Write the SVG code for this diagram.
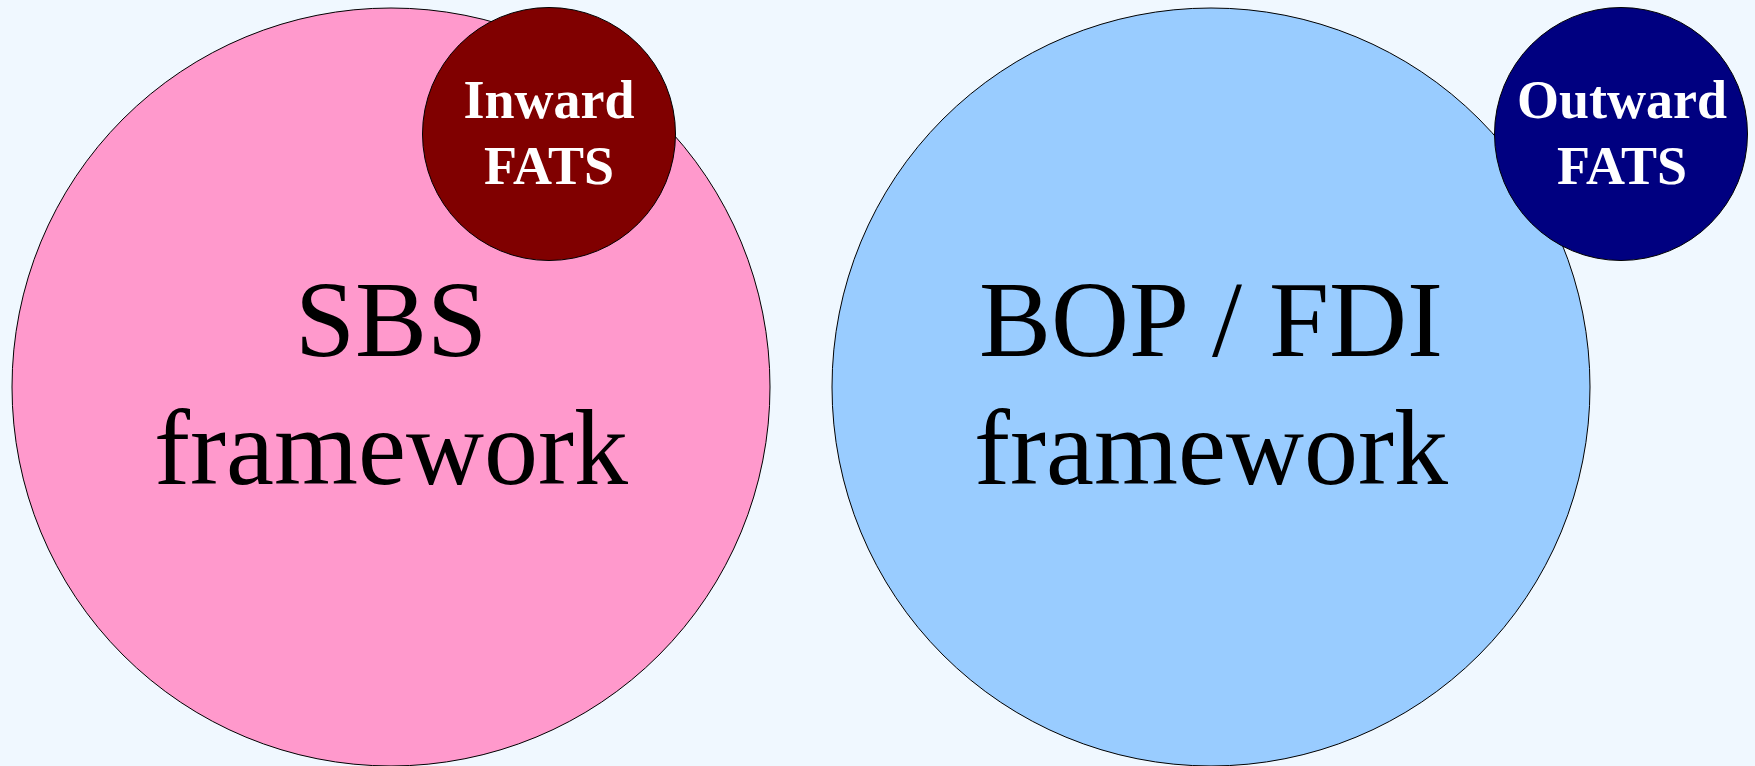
<svg xmlns="http://www.w3.org/2000/svg" width="1755" height="766" viewBox="0 0 1755 766">
<style>
.big{stroke:#000;stroke-width:1}
.small{stroke:#000;stroke-width:1}
.lbl{font-family:"Liberation Serif","Times New Roman",serif;font-size:108px;fill:#000;text-anchor:middle}
.slbl{font-family:"Liberation Serif","Times New Roman",serif;font-size:54px;font-weight:bold;fill:#fff;text-anchor:middle}
</style>
<rect x="0" y="0" width="1755" height="766" fill="#F0F8FF"/>
<g id="sbs">
<circle class="big" cx="391" cy="387" r="379" fill="#FF99CC"/>
<text class="lbl" x="391" y="356">SBS</text>
<text class="lbl" x="391" y="484">framework</text>
</g>
<g id="inward-fats">
<circle class="small" cx="549" cy="134" r="126.5" fill="#800000"/>
<text class="slbl" x="549" y="118">Inward</text>
<text class="slbl" x="549" y="184">FATS</text>
</g>
<g id="bop-fdi">
<circle class="big" cx="1211" cy="387" r="379" fill="#99CCFF"/>
<text class="lbl" x="1211" y="356">BOP / FDI</text>
<text class="lbl" x="1211" y="484">framework</text>
</g>
<g id="outward-fats">
<circle class="small" cx="1621" cy="134" r="126.5" fill="#000080"/>
<text class="slbl" x="1622" y="118">Outward</text>
<text class="slbl" x="1622" y="184">FATS</text>
</g>
<g id="connectors"></g>
</svg>
